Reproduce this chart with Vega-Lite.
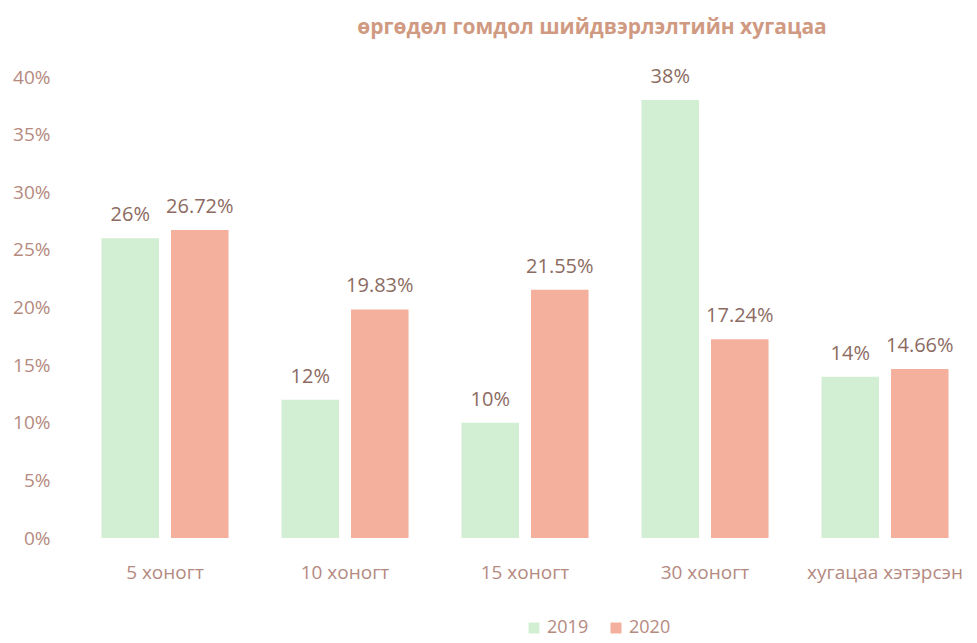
{
  "$schema": "https://vega.github.io/schema/vega-lite/v6.json",
  "autosize": {"type": "none"},
  "width": 900,
  "height": 461,
  "padding": {"left": 75, "top": 77, "right": 2, "bottom": 105},
  "background": "white",
  "config": {"view": {"stroke": null}},
  "title": {
    "text": "өргөдөл гомдол шийдвэрлэлтийн хугацаа",
    "font": "Open Sans",
    "fontSize": 21,
    "fontWeight": "bold",
    "color": "#d09a82",
    "anchor": "middle",
    "dx": 67,
    "offset": 29
  },
  "data": {
    "values": [
      {"cat": "5 хоногт", "year": "2019", "value": 26, "label": "26%"},
      {"cat": "5 хоногт", "year": "2020", "value": 26.72, "label": "26.72%"},
      {"cat": "10 хоногт", "year": "2019", "value": 12, "label": "12%"},
      {"cat": "10 хоногт", "year": "2020", "value": 19.83, "label": "19.83%"},
      {"cat": "15 хоногт", "year": "2019", "value": 10, "label": "10%"},
      {"cat": "15 хоногт", "year": "2020", "value": 21.55, "label": "21.55%"},
      {"cat": "30 хоногт", "year": "2019", "value": 38, "label": "38%"},
      {"cat": "30 хоногт", "year": "2020", "value": 17.24, "label": "17.24%"},
      {"cat": "хугацаа хэтэрсэн", "year": "2019", "value": 14, "label": "14%"},
      {"cat": "хугацаа хэтэрсэн", "year": "2020", "value": 14.66, "label": "14.66%"}
    ]
  },
  "encoding": {
    "x": {
      "field": "cat",
      "type": "nominal",
      "sort": null,
      "scale": {"paddingInner": 0.294, "paddingOuter": 0.147},
      "axis": {
        "title": null,
        "labelAngle": 0,
        "domain": false,
        "ticks": false,
        "labelPadding": 25,
        "labelFont": "Open Sans",
        "labelFontSize": 19,
        "labelColor": "#b58a80"
      }
    },
    "xOffset": {"field": "year", "type": "nominal", "scale": {"paddingInner": 0.173}},
    "y": {
      "field": "value",
      "type": "quantitative",
      "scale": {"domain": [0, 40]},
      "axis": {
        "title": null,
        "values": [0, 5, 10, 15, 20, 25, 30, 35, 40],
        "labelExpr": "datum.value + '%'",
        "grid": false,
        "domain": false,
        "ticks": false,
        "labelPadding": 25,
        "labelFont": "Open Sans",
        "labelFontSize": 19,
        "labelColor": "#b58a80"
      }
    }
  },
  "layer": [
    {
      "mark": {"type": "bar"},
      "encoding": {
        "color": {
          "field": "year",
          "type": "nominal",
          "scale": {"domain": ["2019", "2020"], "range": ["#d3efd3", "#f4b09c"]},
          "legend": {
            "title": null,
            "orient": "none",
            "direction": "horizontal",
            "legendX": 450,
            "legendY": 542,
            "symbolType": "square",
            "symbolSize": 120,
            "labelFont": "Open Sans",
            "labelFontSize": 18,
            "labelColor": "#b58a80",
            "columnPadding": 18
          }
        }
      }
    },
    {
      "mark": {"type": "text", "baseline": "bottom", "dy": -13, "font": "Open Sans", "fontSize": 20, "color": "#8c6b62"},
      "encoding": {"text": {"field": "label"}}
    }
  ]
}
